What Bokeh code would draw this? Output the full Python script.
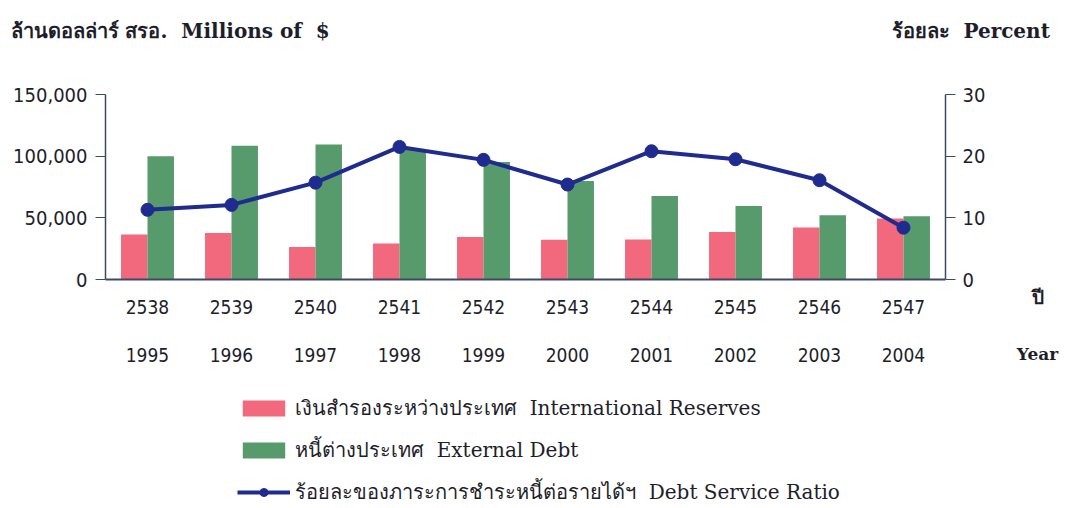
import numpy as np
from bokeh.plotting import figure
from bokeh.layouts import column, row
from bokeh.models import (Range1d, LinearAxis, FixedTicker, Label, Legend, LegendItem)
from bokeh.embed import file_html
from bokeh.resources import INLINE

years_be = ["2538", "2539", "2540", "2541", "2542", "2543", "2544", "2545", "2546", "2547"]
years_ce = ["1995", "1996", "1997", "1998", "1999", "2000", "2001", "2002", "2003", "2004"]
reserves = [36400, 37700, 26400, 29100, 34500, 32200, 32400, 38500, 42100, 49400]
ext_debt = [100000, 108400, 109500, 105000, 95200, 79800, 67700, 59600, 52000, 51200]
dsr = [11.3, 12.1, 15.7, 21.5, 19.4, 15.4, 20.8, 19.5, 16.1, 8.4]

PINK = "#f2687c"
GREEN = "#579a6b"
NAVY = "#1f2b8e"
AXC = "#3c4a66"
TXT = "#1e1e2a"
NARROW = "'DejaVu Sans Condensed', 'Liberation Sans Narrow', 'Liberation Sans', sans-serif"
SERIF = "'DejaVu Serif', serif"
SP = "\u00a0\u00a0"

idx = np.arange(len(years_be))


def blank(width, height):
    f = figure(width=width, height=height, output_backend="svg", toolbar_location=None,
               x_range=Range1d(0, width), y_range=Range1d(0, height),
               x_axis_location=None, y_axis_location=None,
               min_border=0, min_border_left=0, min_border_right=0,
               min_border_top=0, min_border_bottom=0)
    f.outline_line_color = None
    f.grid.visible = False
    return f


def lab(f, x, y, text, size, bold=True, font=SERIF, align="left"):
    f.add_layout(Label(x=x, y=y, text=text, text_font=font, text_font_size=size,
                       text_font_style="bold" if bold else "normal", text_color=TXT,
                       text_align=align, text_baseline="middle"))


# header
head = blank(1074, 60)
lab(head, 10, 30, "ล้านดอลล่าร์ สรอ." + SP + "Millions of" + SP + "$", "20px")
lab(head, 891, 30, "ร้อยละ" + SP + "Percent", "20px")

# main plot
p = figure(width=1000, height=320, output_backend="svg", toolbar_location=None,
           x_range=Range1d(-0.5, 9.5), y_range=Range1d(0, 150000),
           min_border_left=105, min_border_right=55, min_border_top=34, min_border_bottom=101)
p.outline_line_color = None
p.grid.visible = False
p.extra_y_ranges = {"pct": Range1d(0, 30)}

bw = 0.315
r_res = p.vbar(x=idx - bw / 2, top=reserves, width=bw, fill_color=PINK, line_color=None)
r_debt = p.vbar(x=idx + bw / 2, top=ext_debt, width=bw, fill_color=GREEN, line_color=None)
r_line = p.line(x=idx, y=dsr, y_range_name="pct", line_color=NAVY, line_width=4)
r_pts = p.scatter(x=idx, y=dsr, y_range_name="pct", size=13, fill_color=NAVY, line_color=NAVY)

ya = p.yaxis[0]
ya.ticker = FixedTicker(ticks=[0, 50000, 100000, 150000])
ya.major_label_overrides = {0: "0", 50000: "50,000", 100000: "100,000", 150000: "150,000"}
ra = LinearAxis(y_range_name="pct", ticker=FixedTicker(ticks=[0, 10, 20, 30]))
p.add_layout(ra, "right")
for ax in (ya, ra):
    ax.minor_tick_line_color = None
    ax.major_tick_in = 0
    ax.major_tick_out = 10
    ax.axis_line_color = AXC
    ax.major_tick_line_color = AXC
    ax.axis_line_width = 1.5
    ax.major_label_text_font = NARROW
    ax.major_label_text_font_size = "20px"
    ax.major_label_text_color = TXT
ya.major_label_standoff = 8
ra.major_label_standoff = 7

xa = p.xaxis[0]
xa.ticker = FixedTicker(ticks=list(range(len(years_be))))
xa.major_label_overrides = {i: s for i, s in enumerate(years_be)}
xa.axis_line_color = AXC
xa.axis_line_width = 2
xa.major_label_standoff = 14
xb = LinearAxis(ticker=FixedTicker(ticks=list(range(len(years_ce)))))
xb.major_label_overrides = {i: s for i, s in enumerate(years_ce)}
xb.axis_line_color = None
xb.major_label_standoff = 25
p.add_layout(xb, "below")
for ax in (xa, xb):
    ax.major_tick_line_color = None
    ax.minor_tick_line_color = None
    ax.major_label_text_font = NARROW
    ax.major_label_text_font_size = "19px"
    ax.major_label_text_color = TXT

# side: x-axis titles as axis labels
side = figure(width=74, height=320, output_backend="svg", toolbar_location=None,
              x_range=Range1d(0, 1), y_range=Range1d(0, 1),
              x_axis_location=None, y_axis_location=None,
              min_border_left=0, min_border_right=0, min_border_top=34, min_border_bottom=101)
side.outline_line_color = None
side.grid.visible = False
for text, standoff, size in (("ปี", 6, "19px"), ("Year", 33, "17px")):
    a = LinearAxis(ticker=FixedTicker(ticks=[]), axis_label=text)
    a.axis_line_color = None
    a.major_tick_line_color = None
    a.minor_tick_line_color = None
    a.axis_label_standoff = standoff
    a.axis_label_text_font = SERIF
    a.axis_label_text_font_style = "bold"
    a.axis_label_text_font_size = size
    a.axis_label_text_color = TXT
    side.add_layout(a, "below")

# legend
leg = blank(1074, 128)
d_res = leg.vbar(x=[-1000], top=[-1000], width=1, fill_color=PINK, line_color=None)
d_debt = leg.vbar(x=[-1000], top=[-1000], width=1, fill_color=GREEN, line_color=None)
d_line = leg.line(x=[-1000, -999], y=[-1000, -1000], line_color=NAVY, line_width=4)
d_pts = leg.scatter(x=[-1000], y=[-1000], size=11, fill_color=NAVY, line_color=NAVY)
legend = Legend(items=[
    LegendItem(label="เงินสำรองระหว่างประเทศ" + SP + "International Reserves", renderers=[d_res]),
    LegendItem(label="หนี้ต่างประเทศ" + SP + "External Debt", renderers=[d_debt]),
    LegendItem(label="ร้อยละของภาระการชำระหนี้ต่อรายได้ฯ" + SP + "Debt Service Ratio", renderers=[d_line, d_pts]),
], location=(237, 0))
legend.border_line_color = None
legend.background_fill_alpha = 0
legend.padding = 0
legend.margin = 0
legend.spacing = 10
legend.glyph_width = 53
legend.glyph_height = 20
legend.label_height = 20
legend.label_standoff = 5
legend.label_text_font = SERIF
legend.label_text_font_size = "20px"
legend.label_text_color = TXT
leg.add_layout(legend, "center")

layout = column(head, row(p, side), leg)
open("out.html", "w").write(file_html(layout, INLINE))
